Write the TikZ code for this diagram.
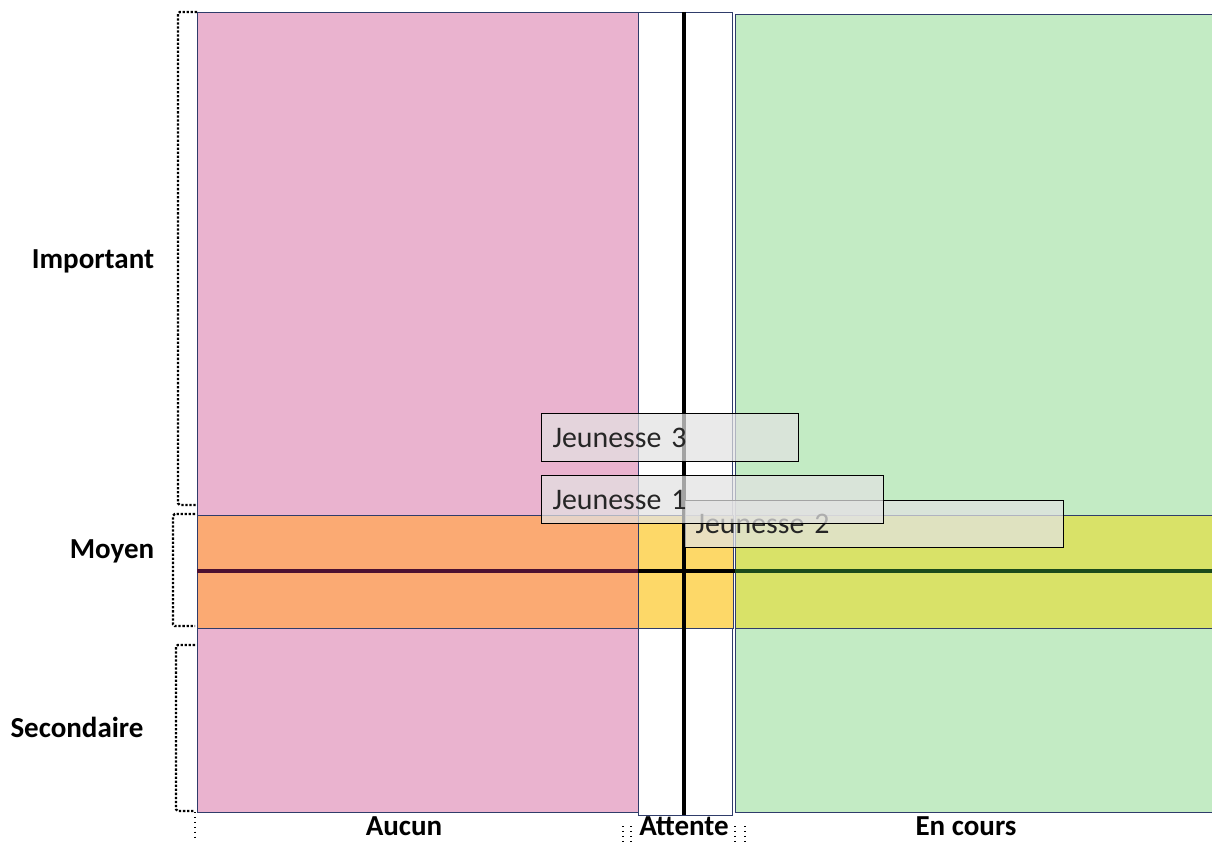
\documentclass[tikz,border=0pt]{standalone}
\usepackage{fontspec}
\setmainfont{Carlito}
\usepackage{tikz}
\usetikzlibrary{positioning}
\usepackage{xcolor}
\definecolor{mxpink}{RGB}{234,179,207}
\definecolor{mxgreen}{RGB}{195,235,196}
\definecolor{mxorange}{RGB}{251,170,115}
\definecolor{mxyellow}{RGB}{253,216,104}
\definecolor{mxlime}{RGB}{217,226,104}
\definecolor{mxnavy}{RGB}{47,60,106}
\definecolor{mxplum}{RGB}{75,16,49}
\definecolor{mxforest}{RGB}{27,74,27}
\definecolor{mxgray}{RGB}{226,226,226}
\tikzstyle{colbox} = [rectangle, anchor=north west, draw=mxnavy, line width=0.5pt, inner sep=0pt]
\tikzstyle{bandbox} = [rectangle, anchor=north west, draw=mxnavy, line width=0.5pt, inner sep=0pt, minimum height=2.26cm]
\tikzstyle{bracket} = [densely dotted, line width=1.3pt, rounded corners=1pt]
\tikzstyle{tick} = [dotted, line width=0.8pt]
\tikzstyle{axisline} = [line width=2.3pt]
\tikzstyle{axislabel} = [font=\fontsize{16.5}{19}\selectfont\bfseries, text=black]
\tikzstyle{jbox} = [rectangle, anchor=north west, draw=black, line width=0.6pt, fill=mxgray, fill opacity=0.72, text opacity=1, text=black!85, font=\fontsize{17}{20}\selectfont, inner xsep=0.22cm, align=left, minimum height=0.96cm]

\begin{document}
\begin{tikzpicture}[x=0.02cm, y=-0.02cm]
\useasboundingbox (0,0) rectangle (1212,841);

% columns
\node[colbox, fill=mxpink, minimum width=8.82cm, minimum height=16cm] (aucun) at (197,12) {};
\node[colbox, fill=white, minimum width=1.88cm, minimum height=16.06cm] (attente) at (638,12) {};
\node[colbox, fill=mxgreen, minimum width=9.54cm, minimum height=15.96cm] (encours) at (735,14) {};

% middle band
\node[bandbox, fill=mxorange, minimum width=8.82cm] (bandL) at (197,515) {};
\node[bandbox, fill=mxyellow, minimum width=1.9cm] (bandM) at (638,515) {};
\node[bandbox, fill=mxlime, minimum width=9.54cm] (bandR) at (735,515) {};

% axes
\coordinate (hl) at (197,571);
\coordinate (hm1) at (638,571);
\coordinate (hm2) at (735,571);
\coordinate (hr) at (1212,571);
\draw[axisline, color=mxplum] (hl) -- (hm1);
\draw[axisline, color=black] (hm1) -- (hm2);
\draw[axisline, color=mxforest] (hm2) -- (hr);
\coordinate (vt) at (684,12);
\coordinate (vb) at (684,815);
\draw[axisline, line width=2.6pt] (vt) -- (vb);

% brackets
\draw[bracket] (197,12) -- (178,12) -- (178,505) -- (197,505);
\draw[bracket] (195,514) -- (173,514) -- (173,626) -- (195,626);
\draw[bracket] (195,645) -- (176,645) -- (176,811) -- (195,811);
\draw[tick] (195,812) -- (195,841);
\draw[tick] (623,826) -- (623,841);
\draw[tick] (631,826) -- (631,841);
\draw[tick] (735,826) -- (735,841);
\draw[tick] (745,826) -- (745,841);

% labels
\node[axislabel] (important) at (93,261) {Important};
\node[axislabel] (moyen) at (112,551) {Moyen};
\node[axislabel] (secondaire) at (77,727) {Secondaire};
\node[axislabel] (laucun) at (404,826) {Aucun};
\node[axislabel] (lattente) at (684,826) {Attente};
\node[axislabel] (lencours) at (966,826) {En cours};

% projects
\node[jbox, minimum width=7.58cm, text width=7.14cm, minimum height=0.94cm] (j2) at (684,500) {Jeunesse 2};
\node[jbox, minimum width=6.84cm, text width=6.4cm] (j1) at (541,475) {Jeunesse 1};
\node[jbox, minimum width=5.14cm, text width=4.7cm] (j3) at (541,413) {Jeunesse 3};
\end{tikzpicture}
\end{document}
